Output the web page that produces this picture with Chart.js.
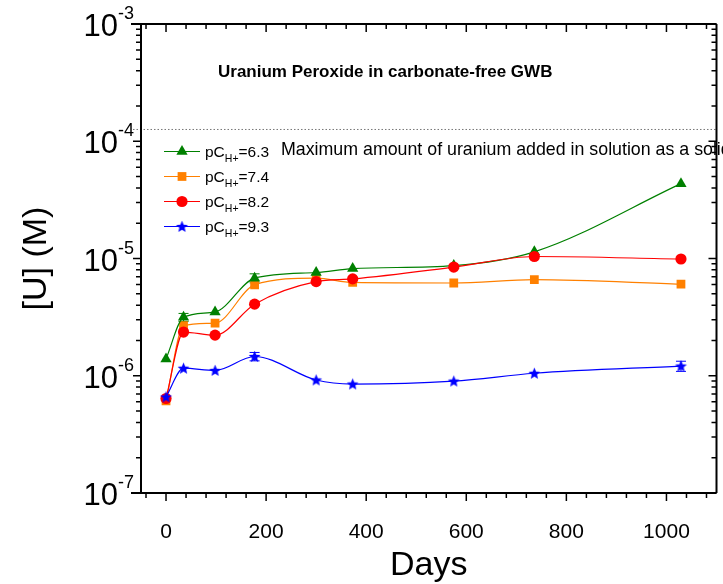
<!DOCTYPE html>
<html>
<head>
<meta charset="utf-8">
<script src="https://cdn.jsdelivr.net/npm/chart.js@4.4.1/dist/chart.umd.min.js"></script>
<style>
  html, body { margin: 0; padding: 0; background: #fff; }
  #wrap { width: 723px; height: 584px; }
</style>
</head>
<body>
<div id="wrap"><canvas id="chart"></canvas></div>
<script>
// sampling days and dissolved uranium [U] (M) for each pCH+ series
var days = [0, 35, 98, 177, 300, 373, 575, 736, 1029];
var u63 = [1.39e-6, 3.15e-6, 3.5e-6, 6.8e-6, 7.6e-6, 8.2e-6, 8.7e-6, 1.14e-5, 4.35e-5];
var u74 = [6.1e-7, 2.67e-6, 2.81e-6, 5.97e-6, 6.8e-6, 6.25e-6, 6.18e-6, 6.6e-6, 6.05e-6];
var u82 = [6.4e-7, 2.36e-6, 2.22e-6, 4.08e-6, 6.35e-6, 6.7e-6, 8.45e-6, 1.04e-5, 9.9e-6];
var u93 = [6.6e-7, 1.16e-6, 1.11e-6, 1.46e-6, 9.2e-7, 8.5e-7, 9.0e-7, 1.05e-6, 1.21e-6];
var err63 = [0, 0.25e-6, 0, 0.6e-6, 0, 0, 0, 0, 0];
var err93 = [0, 0, 0, 0.12e-6, 0, 0, 0, 0, 0.12e-6];
var pcValues = ['6.3', '7.4', '8.2', '9.3'];
var maxAdded = 1.26e-4;
var xTicks = [0, 200, 400, 600, 800, 1000];
var yDecades = [-7, -6, -5, -4, -3];

var FONT = '"Liberation Sans", Arial, sans-serif';

function starImage(color, r) {
  var s = Math.ceil(r * 2) + 2;
  var c = document.createElement('canvas');
  c.width = s; c.height = s;
  var g = c.getContext('2d');
  g.fillStyle = color;
  g.beginPath();
  for (var i = 0; i < 10; i++) {
    var rad = i % 2 === 0 ? r : r * 0.45;
    var a = -Math.PI / 2 + i * Math.PI / 5;
    var px = s / 2 + rad * Math.cos(a), py = s / 2 + rad * Math.sin(a) + 0.5;
    if (i === 0) g.moveTo(px, py); else g.lineTo(px, py);
  }
  g.closePath();
  g.fill();
  return c;
}

function series(pc, vals, errs, color, style, radius, order) {
  return {
    label: 'pCH+=' + pc,
    pc: pc,
    data: days.map(function(d, i) { return { x: d, y: vals[i] }; }),
    errs: errs,
    borderColor: color,
    backgroundColor: color,
    pointStyle: style,
    pointRadius: radius,
    pointBorderWidth: 0,
    borderWidth: 1.2,
    cubicInterpolationMode: 'monotone',
    order: order
  };
}

var sets = [
  series(pcValues[0], u63, err63, '#008000', 'triangle', 6.5, 3),
  series(pcValues[1], u74, null, '#ff8000', 'rect', 6.2, 4),
  series(pcValues[2], u82, null, '#ff0000', 'circle', 5.6, 2),
  series(pcValues[3], u93, err93, '#0000ff', starImage('#0000ff', 6.2), 6, 1)
];

// frame, inward/outward ticks, decade labels, reference line, texts and legend
var decor = {
  id: 'decor',
  beforeDatasetsDraw: function(chart) {
    var ctx = chart.ctx, x = chart.scales.x, y = chart.scales.y;
    ctx.save();
    chart.data.datasets.forEach(function(ds) {
      if (!ds.errs) return;
      ctx.strokeStyle = ds.borderColor;
      ctx.lineWidth = 1;
      ds.data.forEach(function(p, i) {
        var e = ds.errs[i];
        if (!e) return;
        var px = x.getPixelForValue(p.x);
        var y1 = y.getPixelForValue(p.y + e), y2 = y.getPixelForValue(p.y - e);
        ctx.beginPath();
        ctx.moveTo(px, y1); ctx.lineTo(px, y2);
        ctx.moveTo(px - 5, y1); ctx.lineTo(px + 5, y1);
        ctx.moveTo(px - 5, y2); ctx.lineTo(px + 5, y2);
        ctx.stroke();
      });
    });
    // maximum uranium added line
    var ly = y.getPixelForValue(maxAdded);
    ctx.strokeStyle = '#777';
    ctx.lineWidth = 1;
    ctx.setLineDash([1.5, 2]);
    ctx.beginPath();
    ctx.moveTo(chart.chartArea.left - 8, ly);
    ctx.lineTo(chart.chartArea.right, ly);
    ctx.stroke();
    ctx.restore();
  },
  afterDraw: function(chart) {
    var ctx = chart.ctx, a = chart.chartArea;
    var x = chart.scales.x, y = chart.scales.y;
    ctx.save();
    ctx.strokeStyle = '#000';
    ctx.lineWidth = 2;
    ctx.beginPath();
    ctx.moveTo(a.left - 10, a.top); ctx.lineTo(a.right, a.top);
    ctx.moveTo(a.left - 10, a.bottom); ctx.lineTo(a.right, a.bottom);
    ctx.moveTo(a.left, a.top); ctx.lineTo(a.left, a.bottom);
    ctx.moveTo(a.right, a.top); ctx.lineTo(a.right, a.bottom);
    ctx.stroke();

    ctx.lineWidth = 1.5;
    ctx.beginPath();
    for (var v = -40; v <= x.max; v += 40) {
      var px = x.getPixelForValue(v);
      var len = (v % 200 === 0) ? 8 : 5;
      ctx.moveTo(px, a.bottom); ctx.lineTo(px, a.bottom + len);
      ctx.moveTo(px, a.top); ctx.lineTo(px, a.top + len);
    }
    yDecades.forEach(function(d) {
      for (var m = 1; m <= 9; m++) {
        var val = m * Math.pow(10, d);
        if (val > y.max * 1.0001) break;
        var py = y.getPixelForValue(val);
        var len = m === 1 ? 8 : 5;
        ctx.moveTo(a.left - len, py); ctx.lineTo(a.left, py);
        ctx.moveTo(a.right - len, py); ctx.lineTo(a.right, py);
      }
    });
    ctx.stroke();

    // decade labels 10^n
    ctx.fillStyle = '#000';
    yDecades.forEach(function(d) {
      var py = y.getPixelForValue(Math.pow(10, d));
      ctx.font = '31px ' + FONT;
      ctx.textAlign = 'right';
      ctx.textBaseline = 'alphabetic';
      ctx.fillText('10', 118, py + 12);
      ctx.font = '18px ' + FONT;
      ctx.textAlign = 'left';
      ctx.fillText('-' + Math.abs(d), 118, py - 5);
    });

    // axis title
    ctx.font = '34px ' + FONT;
    ctx.textAlign = 'center';
    ctx.textBaseline = 'middle';
    ctx.save();
    ctx.translate(37, (a.top + a.bottom) / 2);
    ctx.rotate(-Math.PI / 2);
    ctx.fillText('[U] (M)', 0, 0);
    ctx.restore();

    // heading inside the plot
    ctx.font = 'bold 17px ' + FONT;
    ctx.textAlign = 'left';
    ctx.textBaseline = 'middle';
    ctx.fillText('Uranium Peroxide in carbonate-free GWB', a.left + 77, a.top + 48);

    // note on the reference line
    ctx.font = '17.8px ' + FONT;
    ctx.textBaseline = 'alphabetic';
    ctx.fillText('Maximum amount of uranium added in solution as a solid', a.left + 140, y.getPixelForValue(maxAdded) + 26);

    // legend
    var rowY = y.getPixelForValue(maxAdded) + 22;
    [0, 1, 2, 3].forEach(function(k) {
      var ds = chart.data.datasets[k];
      var ry = rowY + k * 25;
      var lx = a.left + 23;
      ctx.strokeStyle = ds.borderColor;
      ctx.fillStyle = ds.backgroundColor;
      ctx.lineWidth = 1.2;
      ctx.beginPath();
      ctx.moveTo(lx, ry); ctx.lineTo(lx + 36, ry);
      ctx.stroke();
      Chart.helpers.drawPoint(ctx, {
        pointStyle: ds.pointStyle, radius: ds.pointRadius, rotation: 0, borderWidth: 0
      }, lx + 18, ry);
      ctx.fillStyle = '#000';
      ctx.textAlign = 'left';
      ctx.textBaseline = 'alphabetic';
      var tx = lx + 41;
      ctx.font = '15.5px ' + FONT;
      ctx.fillText('pC', tx, ry + 6);
      tx += ctx.measureText('pC').width;
      ctx.font = '10.5px ' + FONT;
      ctx.fillText('H+', tx, ry + 11);
      tx += ctx.measureText('H+').width;
      ctx.font = '15.5px ' + FONT;
      ctx.fillText('=' + ds.pc, tx, ry + 6);
    });
    ctx.restore();
  }
};

new Chart(document.getElementById('chart'), {
  type: 'line',
  data: { datasets: sets },
  plugins: [decor],
  options: {
    responsive: true,
    maintainAspectRatio: false,
    animation: false,
    layout: { padding: { top: 24, right: 2, left: 0, bottom: 0 } },
    plugins: {
      legend: { display: false },
      tooltip: { enabled: false }
    },
    scales: {
      x: {
        type: 'linear',
        min: -50,
        max: 1100,
        afterBuildTicks: function(s) { s.ticks = xTicks.map(function(v) { return { value: v }; }); },
        afterFit: function(s) { s.height = 91; },
        grid: { display: false, drawTicks: false },
        border: { display: false },
        ticks: {
          color: '#000', padding: 27, maxRotation: 0,
          font: { size: 21, family: FONT },
          callback: function(v) { return String(v); }
        },
        title: {
          display: true, text: 'Days', color: '#000', padding: { top: 0, bottom: 0 },
          font: { size: 34, family: FONT, lineHeight: 1.1 }
        }
      },
      y: {
        type: 'logarithmic',
        min: 1e-7,
        max: 1e-3,
        afterFit: function(s) { s.width = 141; },
        grid: { display: false, drawTicks: false },
        border: { display: false },
        ticks: { display: false }
      }
    }
  }
});
</script>
</body>
</html>
